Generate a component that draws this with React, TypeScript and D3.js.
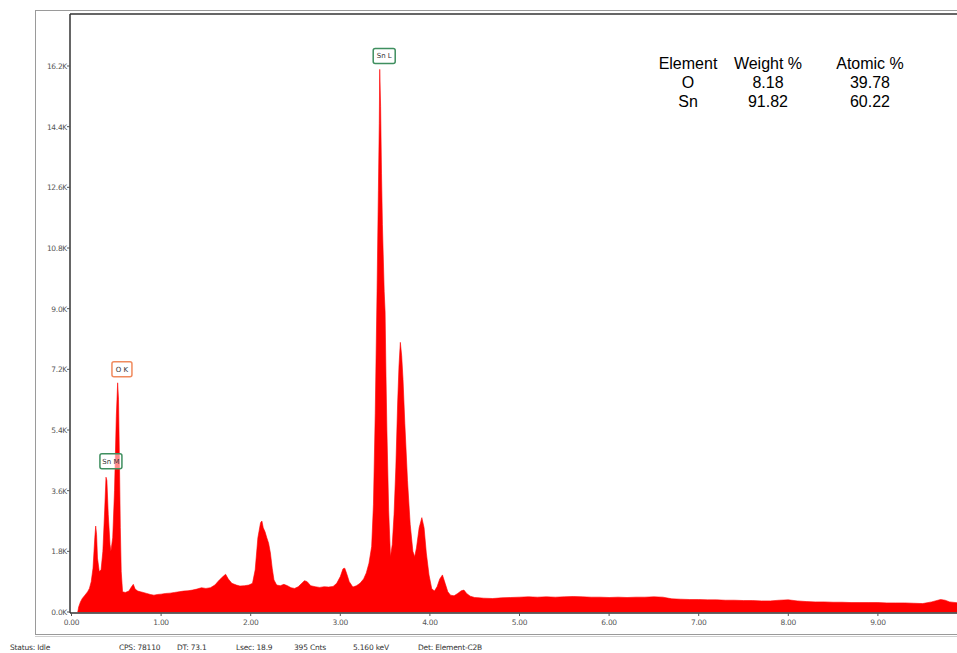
import React from "react";
import * as d3 from "d3";

// Spectrum: energy (keV) and counts (K)
const energyKeV: number[] = [
  0.07, 0.08, 0.10, 0.12, 0.15, 0.18, 0.20, 0.22, 0.24, 0.26, 0.27, 0.28, 0.29, 0.31, 0.33, 0.35, 0.37, 0.385, 0.395, 0.41,
  0.43, 0.44, 0.46, 0.48, 0.50, 0.515, 0.525, 0.535, 0.545, 0.555, 0.57, 0.60, 0.64, 0.67, 0.69, 0.71, 0.74, 0.77, 0.80, 0.84,
  0.88, 0.92, 0.96, 1.00, 1.05, 1.10, 1.15, 1.20, 1.25, 1.30, 1.35, 1.40, 1.45, 1.50, 1.55, 1.60, 1.65, 1.69, 1.72, 1.75,
  1.79, 1.84, 1.88, 1.93, 1.98, 2.02, 2.05, 2.08, 2.11, 2.125, 2.14, 2.16, 2.18, 2.20, 2.22, 2.24, 2.26, 2.29, 2.33, 2.37,
  2.41, 2.45, 2.49, 2.53, 2.57, 2.60, 2.63, 2.67, 2.72, 2.77, 2.82, 2.87, 2.92, 2.96, 3.00, 3.03, 3.05, 3.07, 3.10, 3.14,
  3.18, 3.22, 3.26, 3.29, 3.32, 3.35, 3.37, 3.39, 3.41, 3.425, 3.435, 3.44, 3.45, 3.46, 3.47, 3.49, 3.50, 3.51, 3.52, 3.54,
  3.56, 3.58, 3.60, 3.62, 3.64, 3.655, 3.67, 3.685, 3.70, 3.72, 3.75, 3.78, 3.81, 3.83, 3.85, 3.88, 3.91, 3.935, 3.96, 3.99,
  4.02, 4.05, 4.08, 4.11, 4.14, 4.17, 4.20, 4.23, 4.27, 4.31, 4.35, 4.38, 4.41, 4.45, 4.50, 4.55, 4.60, 4.70, 4.80, 4.90,
  5.00, 5.10, 5.20, 5.30, 5.40, 5.50, 5.60, 5.70, 5.80, 5.90, 6.00, 6.10, 6.20, 6.30, 6.40, 6.50, 6.60, 6.70, 6.80, 6.90,
  7.00, 7.10, 7.20, 7.30, 7.40, 7.50, 7.60, 7.70, 7.80, 7.90, 8.00, 8.10, 8.20, 8.30, 8.40, 8.50, 8.60, 8.70, 8.80, 8.90,
  9.00, 9.10, 9.20, 9.30, 9.40, 9.50, 9.60, 9.70, 9.75, 9.80, 9.90, 10.00,
];
const countsK: number[] = [
  0.0, 0.15, 0.3, 0.4, 0.5, 0.6, 0.7, 0.9, 1.3, 2.2, 2.55, 2.3, 1.6, 1.2, 1.25, 1.8, 3.0, 4.0, 3.9, 2.9,
  2.0, 1.8, 2.2, 3.6, 5.8, 6.8, 6.3, 4.5, 2.5, 1.2, 0.6, 0.58, 0.62, 0.75, 0.82, 0.68, 0.62, 0.6, 0.58, 0.55,
  0.52, 0.5, 0.52, 0.53, 0.55, 0.56, 0.58, 0.6, 0.62, 0.63, 0.65, 0.68, 0.72, 0.7, 0.72, 0.8, 0.95, 1.05, 1.12, 0.98,
  0.85, 0.8, 0.77, 0.78, 0.8, 0.85, 1.25, 2.2, 2.65, 2.7, 2.5, 2.38, 2.2, 2.04, 1.75, 1.3, 0.95, 0.8, 0.78, 0.82,
  0.78, 0.72, 0.7, 0.75, 0.85, 0.93, 0.9, 0.78, 0.75, 0.73, 0.75, 0.74, 0.76, 0.85, 1.05, 1.28, 1.3, 1.15, 0.9, 0.74,
  0.78, 0.85, 0.98, 1.16, 1.45, 1.94, 3.2, 5.9, 9.5, 12.5, 14.5, 16.1, 15.0, 13.0, 11.5, 9.5, 8.9, 7.0, 5.4, 3.0,
  1.64, 2.0, 2.9, 4.3, 6.2, 7.3, 8.0, 7.6, 6.9, 5.6, 3.9, 2.6, 1.8, 1.64, 1.9, 2.5, 2.8, 2.5, 1.75, 1.1,
  0.7, 0.62, 0.75, 0.98, 1.1, 0.85, 0.6, 0.5, 0.48, 0.55, 0.63, 0.65, 0.55, 0.47, 0.43, 0.42, 0.41, 0.4, 0.42, 0.43,
  0.44, 0.45, 0.44, 0.45, 0.44, 0.45, 0.46, 0.45, 0.44, 0.44, 0.43, 0.44, 0.43, 0.44, 0.44, 0.45, 0.44, 0.39, 0.38, 0.37,
  0.37, 0.36, 0.36, 0.35, 0.35, 0.34, 0.34, 0.33, 0.33, 0.35, 0.36, 0.33, 0.31, 0.3, 0.3, 0.29, 0.29, 0.28, 0.28, 0.28,
  0.28, 0.27, 0.27, 0.27, 0.26, 0.25, 0.3, 0.37, 0.35, 0.3, 0.27, 0.26,
];

const yTicks: number[] = [0, 1.8, 3.6, 5.4, 7.2, 9.0, 10.8, 12.6, 14.4, 16.2];
const xTicks: number[] = [0, 1, 2, 3, 4, 5, 6, 7, 8, 9];

const tableHeader: string[] = ["Element", "Weight %", "Atomic %"];
const tableElements: string[] = ["O", "Sn"];
const tableWeight: string[] = ["8.18", "91.82"];
const tableAtomic: string[] = ["39.78", "60.22"];

const peakLabels: string[] = ["Sn L", "O K", "Sn M"];
const peakLabelEnergy: number[] = [3.49, 0.563, 0.44];
const peakLabelLevel: number[] = [16.5, 7.2, 4.47];
const peakColors: string[] = ["#3f8f5f", "#f08a5d", "#3f8f5f"];

const statusTexts: string[] = ["Status: Idle", "CPS: 78110", "DT: 73.1", "Lsec: 18.9", "395 Cnts", "5.160 keV", "Det: Element-C2B"];
const statusX: number[] = [10, 119, 177, 236, 294, 353, 418];

export default function App() {
  const W = 957, H = 653;
  const x = d3.scaleLinear().domain([0, 10]).range([71.5, 967.5]);
  const y = d3.scaleLinear().domain([0, 16.2]).range([612, 66]);
  const pts = energyKeV.map((e, i) => [e, countsK[i]] as [number, number]);
  const area = d3.area<[number, number]>().x(d => x(d[0])).y0(y(0)).y1(d => y(d[1]));
  const axisFont = "'DejaVu Sans', sans-serif";
  const tableFont = "'Liberation Sans', Arial, sans-serif";
  const plotLeft = 70, plotTop = 14, plotBottom = 613;
  const colX = [688, 768, 870];

  return (
    <svg width={W} height={H} style={{ position: "absolute", left: 0, top: 0, background: "#fff" }}>
      {/* outer frame */}
      <rect x={35.5} y={10.5} width={1000} height={624} fill="none" stroke="#9a9a9a" strokeWidth={1} />
      <line x1={35} x2={W} y1={636.5} y2={636.5} stroke="#cfcfcf" strokeWidth={1} />
      {/* spectrum */}
      <path d={area(pts) || ""} fill="#ff0000" stroke="#ff0000" strokeWidth={0.6} />
      {/* plot frame */}
      <line x1={plotLeft} x2={W} y1={plotTop} y2={plotTop} stroke="#333" strokeWidth={1.5} />
      <line x1={plotLeft} x2={plotLeft} y1={plotTop} y2={plotBottom} stroke="#333" strokeWidth={1.5} />
      <line x1={plotLeft} x2={W} y1={plotBottom} y2={plotBottom} stroke="#333" strokeWidth={1.5} />
      {/* y ticks */}
      {yTicks.map(t => (
        <g key={"y" + t}>
          <line x1={plotLeft - 3} x2={plotLeft} y1={y(t)} y2={y(t)} stroke="#555" strokeWidth={1} />
          <text x={plotLeft - 3} y={y(t) + 3} textAnchor="end" fontFamily={axisFont} fontSize={7.5} fill="#555" letterSpacing={-0.3}>
            {t.toFixed(1) + "K"}
          </text>
        </g>
      ))}
      {/* x ticks */}
      {xTicks.map(t => (
        <g key={"x" + t}>
          <line x1={x(t)} x2={x(t)} y1={plotBottom} y2={plotBottom + 3} stroke="#555" strokeWidth={1} />
          <text x={x(t)} y={plotBottom + 12} textAnchor="middle" fontFamily={axisFont} fontSize={7.5} fill="#555" letterSpacing={-0.3}>
            {t.toFixed(2)}
          </text>
        </g>
      ))}
      {/* peak labels */}
      {peakLabels.map((lab, i) => {
        const cx = x(peakLabelEnergy[i]);
        const cy = y(peakLabelLevel[i]);
        const w = lab.length === 3 ? 20 : 22;
        return (
          <g key={lab}>
            <rect x={cx - w / 2} y={cy - 7.5} width={w} height={15} rx={2} fill="rgba(255,255,255,0.55)" stroke={peakColors[i]} strokeWidth={1.5} />
            <text x={cx} y={cy + 2.5} textAnchor="middle" fontFamily={axisFont} fontSize={7} fill="#333">{lab}</text>
          </g>
        );
      })}
      {/* composition table */}
      <g fontFamily={tableFont} fontSize={16} fill="#000">
        {tableHeader.map((h, i) => (
          <text key={h} x={colX[i]} y={69} textAnchor="middle">{h}</text>
        ))}
        {tableElements.map((el, r) => (
          <g key={el}>
            <text x={colX[0]} y={88 + r * 19} textAnchor="middle">{el}</text>
            <text x={colX[1]} y={88 + r * 19} textAnchor="middle">{tableWeight[r]}</text>
            <text x={colX[2]} y={88 + r * 19} textAnchor="middle">{tableAtomic[r]}</text>
          </g>
        ))}
      </g>
      {/* status bar */}
      {statusTexts.map((s, i) => (
        <text key={s} x={statusX[i]} y={650} fontFamily={axisFont} fontSize={7.5} fill="#333" letterSpacing={-0.2}>{s}</text>
      ))}
    </svg>
  );
}
